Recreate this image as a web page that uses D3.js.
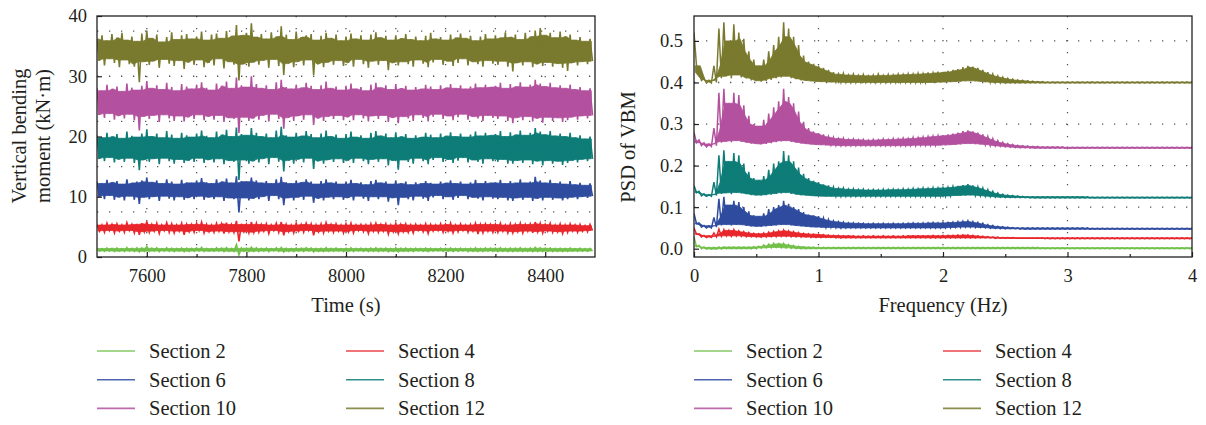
<!DOCTYPE html>
<html><head><meta charset="utf-8">
<script src="https://cdn.jsdelivr.net/npm/d3@7"></script>
<style>
body{margin:0;background:#fff}
text{font-family:"Liberation Serif","Times New Roman",serif;fill:#231f20}
</style>
</head><body>
<svg id="c" width="1206" height="425"></svg>
<script>
// ---------- categories / labels ----------
const seriesNames = ["Section 2","Section 4","Section 6","Section 8","Section 10","Section 12"];
const seriesColors = ["#72c04a","#e8262b","#2f4c9f","#0e7c77","#b3519f","#7a7a2f"];
const timeTicks = [7600,7800,8000,8200,8400];
const timeMinorTicks = [7700,7900,8100,8300];
const vbmTicks = [0,10,20,30,40];
const vbmGrid = [7.5,15,22.5,30,37.5];
const freqTicks = [0,1,2,3,4];
const freqMinorTicks = [0.5,1.5,2.5,3.5];
const psdTicks = [0,0.1,0.2,0.3,0.4,0.5];

// ---------- time series: 10 s bins starting 7500 s, max / min per bin (kN·m) ----------
const timeBins = d3.range(7500, 8500, 10);
const tsHi2 = [1.45,1.40,1.50,1.42,1.48,1.40,1.55,1.43,1.50,1.46, 1.75,1.44,1.50,1.40,1.52,1.45,1.41,1.49,1.44,1.42,
 1.50,1.58,1.43,1.40,1.52,1.46,1.55,1.42,2.05,1.48, 1.45,1.60,1.50,1.42,1.47,1.40,1.52,1.58,1.44,1.41,
 1.50,1.44,1.52,1.47,1.40,1.46,1.55,1.42,1.48,1.40, 1.46,1.52,1.41,1.44,1.40,1.48,1.53,1.43,1.47,1.40,
 1.55,1.43,1.47,1.40,1.44,1.41,1.48,1.45,1.40,1.46, 1.43,1.50,1.41,1.46,1.40,1.44,1.52,1.42,1.47,1.44,
 1.45,1.51,1.42,1.48,1.44,1.52,1.43,1.47,1.58,1.50, 1.44,1.50,1.42,1.46,1.41,1.47,1.40,1.44,1.39,1.43];
const tsLo2 = [0.98,0.94,1.00,0.92,0.97,0.93,1.00,0.92,0.85,0.96, 0.93,0.98,0.90,1.00,0.95,0.92,0.98,0.88,0.96,0.94,
 1.00,0.92,0.97,0.94,0.99,0.90,0.96,0.94,0.35,0.96, 0.92,0.95,0.93,0.99,0.90,1.01,0.94,0.84,0.96,0.92,
 0.98,0.94,1.00,0.86,0.95,0.92,0.97,0.94,0.99,0.92, 0.96,0.93,1.00,0.95,0.91,0.98,0.94,0.98,0.88,0.95,
 0.85,0.97,0.94,0.92,1.00,0.95,0.91,0.97,1.01,0.94, 0.98,0.93,0.96,1.01,0.93,0.97,0.94,0.91,0.98,0.95,
 0.94,0.97,0.92,0.91,0.96,0.93,0.97,0.91,0.95,0.92, 0.97,0.93,0.96,0.91,0.94,0.97,0.94,0.98,0.96,0.99];
const tsHi4 = [5.4,5.3,5.6,5.4,5.5,5.3,5.7,5.4,5.5,5.6, 5.9,5.4,5.6,5.3,5.7,5.5,5.3,5.6,5.4,5.4,
 5.6,5.8,5.4,5.3,5.6,5.5,5.7,5.4,6.0,5.5, 5.4,5.8,5.6,5.4,5.5,5.3,5.6,5.8,5.4,5.3,
 5.6,5.4,5.6,5.5,5.3,5.5,5.7,5.4,5.5,5.3, 5.5,5.6,5.3,5.4,5.3,5.5,5.6,5.4,5.5,5.3,
 5.6,5.4,5.5,5.3,5.4,5.3,5.5,5.4,5.3,5.5, 5.4,5.6,5.3,5.5,5.3,5.4,5.6,5.4,5.5,5.4,
 5.4,5.6,5.3,5.5,5.4,5.6,5.4,5.5,5.8,5.6, 5.4,5.6,5.3,5.5,5.3,5.5,5.3,5.4,5.2,5.4];
const tsLo4 = [4.3,4.1,4.4,4.0,4.3,4.1,4.4,4.0,3.7,4.2, 4.1,4.3,3.9,4.4,4.1,4.0,4.3,3.7,4.2,4.1,
 4.4,4.0,4.2,4.1,4.3,3.9,4.2,4.1,2.6,4.2, 4.0,4.1,4.1,4.3,3.9,4.4,4.1,3.6,4.2,4.0,
 4.3,4.1,4.4,3.6,4.2,4.0,4.3,4.1,4.3,4.0, 4.2,4.0,4.4,4.2,3.9,4.3,4.1,4.3,3.8,4.2,
 3.9,4.2,4.1,4.0,4.4,4.2,3.9,4.3,4.4,4.1, 4.3,4.0,4.2,4.4,4.1,4.3,3.8,4.0,4.3,4.1,
 4.1,4.3,4.0,4.0,4.2,4.0,4.3,4.0,4.2,4.0, 4.3,4.1,4.2,3.9,4.1,4.3,4.1,4.3,4.2,4.4];
const tsHi6 = [12.5,12.2,12.8,12.4,12.6,12.1,12.9,12.3,12.5,12.7, 13.2,12.4,12.7,12.2,12.9,12.5,12.1,12.8,12.4,12.3,
 12.7,13.1,12.4,12.2,12.9,12.5,13.0,12.3,13.4,12.6, 12.5,13.2,12.7,12.3,12.6,12.2,12.9,13.3,12.4,12.2,
 12.7,12.4,12.9,12.5,12.1,12.6,12.9,12.3,12.5,12.1, 12.5,12.8,12.2,12.4,12.0,12.6,12.8,12.3,12.5,12.1,
 12.7,12.2,12.5,12.0,12.4,12.2,12.6,12.3,12.1,12.5, 12.3,12.7,12.2,12.5,12.1,12.4,12.8,12.2,12.6,12.3,
 12.4,12.8,12.2,12.6,12.3,12.9,12.3,12.5,13.3,12.7, 12.3,12.8,12.2,12.5,12.1,12.6,12.0,12.3,11.9,12.2];
const tsLo6 = [10.0,9.6,10.2,9.5,9.9,9.4,10.1,9.5,8.8,9.9, 9.6,10.0,9.3,10.1,9.7,9.4,10.0,9.5,9.8,9.6,
 10.1,9.5,9.9,9.6,10.0,9.3,9.8,9.6,7.4,9.8, 9.4,9.7,9.6,10.0,9.3,10.2,9.6,8.6,9.8,9.4,
 9.9,9.5,10.1,9.0,9.7,9.4,9.9,9.6,10.0,9.5, 9.8,9.4,10.1,9.7,9.3,10.0,9.6,10.0,9.2,9.8,
 8.6,9.9,9.6,9.4,10.1,9.7,9.3,9.9,10.2,9.6, 10.0,9.5,9.8,10.2,9.6,9.9,9.7,9.4,10.0,9.7,
 9.6,9.9,9.4,9.3,9.8,9.5,9.9,9.3,9.7,9.4, 9.9,9.5,9.8,9.4,9.6,9.9,9.6,10.0,9.8,10.1];
const tsHi8 = [20.2,19.8,20.6,20.0,20.4,19.7,20.8,20.1,19.9,20.5, 21.2,20.0,20.5,19.8,20.9,20.3,19.7,20.6,20.2,19.9,
 20.5,21.0,20.1,19.8,20.8,20.3,21.1,20.0,21.5,20.4, 20.2,21.4,20.6,20.0,20.5,19.8,21.0,21.6,20.2,19.9,
 20.6,20.1,20.9,20.4,19.8,20.5,21.0,20.0,20.3,19.7, 20.4,20.8,19.9,20.2,19.7,20.6,20.9,20.1,20.5,19.8,
 20.7,20.0,20.4,19.7,20.2,19.9,20.6,20.3,19.8,20.5, 20.1,20.7,20.0,20.5,19.9,20.3,20.8,20.1,20.6,20.2,
 20.4,20.9,20.0,20.7,20.3,21.0,20.2,20.6,21.4,20.8, 20.3,20.9,20.1,20.5,20.0,20.6,19.8,20.2,19.6,20.0];
const tsLo8 = [16.3,15.9,16.5,15.7,16.2,15.8,16.4,15.6,14.4,16.1, 15.8,16.3,15.4,16.4,15.9,15.5,16.2,15.6,16.0,15.8,
 16.4,15.6,16.1,15.7,16.3,15.4,16.0,15.8,12.8,16.1, 15.5,15.9,15.7,16.3,15.4,16.5,15.8,14.2,16.0,15.5,
 16.2,15.7,16.4,14.6,15.9,15.5,16.1,15.8,16.3,15.6, 16.0,15.6,16.4,15.9,15.4,16.2,15.8,16.3,15.2,16.0,
 14.5,16.1,15.8,15.5,16.4,15.9,15.4,16.1,16.5,15.8, 16.2,15.6,16.0,16.5,15.7,16.1,15.8,15.5,16.3,15.9,
 15.8,16.2,15.5,15.5,16.0,15.6,16.1,15.4,15.9,15.2, 16.0,15.5,15.9,15.3,15.6,16.0,15.7,16.2,15.9,16.3];
const tsHi10 = [28.0,27.6,28.6,27.9,28.3,27.5,28.8,28.1,27.7,28.4, 29.2,28.0,28.5,27.8,28.9,28.2,27.6,28.7,28.3,27.9,
 28.6,29.0,28.1,27.7,28.8,28.4,29.1,28.0,29.8,28.5, 28.2,30.0,28.7,28.0,28.5,27.8,29.0,29.4,28.2,27.9,
 28.6,28.1,28.9,28.4,27.8,28.5,29.1,28.0,28.3,27.7, 28.4,28.8,27.9,28.2,27.6,28.6,28.9,28.1,28.5,27.8,
 28.7,28.0,28.4,27.7,28.2,27.9,28.6,28.3,27.8,28.5, 28.1,28.7,28.0,28.5,27.9,28.3,28.8,28.1,28.6,28.2,
 28.4,28.9,28.0,28.7,28.3,29.0,28.2,28.6,29.4,28.8, 28.3,28.9,28.1,28.5,28.0,28.6,27.8,28.2,27.6,28.0];
const tsLo10 = [23.6,23.1,23.8,22.8,23.4,23.0,23.7,22.7,21.0,23.3, 22.9,23.5,22.4,23.6,23.0,22.6,23.4,22.5,23.2,22.9,
 23.6,22.7,23.3,22.8,23.5,22.4,23.1,22.9,20.6,23.2, 22.6,23.0,22.8,23.5,22.5,23.7,22.9,21.3,23.1,22.6,
 23.4,22.8,23.6,21.9,23.0,22.6,23.3,22.9,23.5,22.7, 23.2,22.7,23.6,23.0,22.5,23.4,22.9,23.5,22.4,23.1,
 22.2,23.3,23.0,22.6,23.6,23.1,22.5,23.3,23.7,22.9, 23.4,22.7,23.2,23.7,22.8,23.3,23.0,22.6,23.5,23.1,
 22.9,23.4,22.6,22.2,23.1,22.7,23.3,22.5,23.0,22.3, 23.2,22.6,23.1,22.4,22.7,23.2,22.8,23.4,23.0,23.5];
const tsHi12 = [36.2,36.8,35.9,37.0,36.4,37.2,36.0,36.6,35.8,37.1, 37.6,36.3,36.9,35.7,36.5,37.3,36.1,36.8,37.0,36.2,
 36.6,37.4,36.0,36.9,37.1,36.3,37.5,36.7,38.5,36.8, 37.2,38.8,36.5,37.0,36.2,37.3,36.6,38.3,36.9,36.1,
 37.4,36.5,36.8,37.0,36.0,36.7,37.2,36.3,36.9,35.9, 36.6,37.1,36.2,36.8,36.0,36.9,37.3,36.4,36.7,36.0,
 36.8,36.3,37.0,36.1,36.6,35.9,36.7,37.2,36.2,36.5, 36.0,36.9,36.4,37.1,36.3,36.7,35.9,36.6,37.0,36.2,
 36.8,36.4,37.3,36.5,36.9,36.1,37.2,36.6,37.6,38.0, 36.8,37.2,36.4,37.4,36.6,36.9,36.0,36.5,35.8,36.2];
const tsLo12 = [32.6,31.8,32.9,32.2,31.5,32.7,32.0,31.6,29.0,32.4, 31.9,32.5,31.4,32.8,32.1,31.7,32.6,31.2,32.3,31.9,
 32.7,31.5,32.2,31.8,32.9,31.3,32.4,31.9,29.3,32.0, 31.6,32.3,31.9,32.6,31.4,32.8,31.7,30.2,32.1,31.5,
 32.4,31.8,32.7,30.2,32.0,31.5,32.3,31.9,32.6,31.7, 32.2,31.6,32.8,32.0,31.4,32.5,31.9,32.6,31.0,32.2,
 31.8,32.4,32.0,31.6,32.7,32.1,31.5,32.3,32.8,31.9, 32.5,31.7,32.2,32.9,31.8,32.4,32.0,31.6,32.6,32.1,
 31.9,32.5,31.6,30.8,32.2,31.8,32.4,31.5,32.0,31.7, 32.3,31.6,32.1,31.4,30.9,32.2,31.8,32.4,32.0,32.5];

// ---------- PSD: 0.04 Hz bins from 0 to 4 Hz, max / min per bin ----------
const freqBins = d3.range(0, 101).map(i => i * 0.04);
const psdHi2 = [0.028,0.008,0.004,0.003,0.003,0.004,0.004,0.004,0.004,0.004,
 0.004,0.004,0.005,0.006,0.009,0.011,0.013,0.012,0.013,0.010,
 0.008,0.006,0.005,0.004,0.004,0.003,0.003,0.003,0.003,0.003,
 0.003,0.003,0.003,0.003,0.003,0.003,0.003,0.003,0.003,0.003,
 0.003,0.003,0.003,0.003,0.003,0.003,0.003,0.003,0.003,0.003,
 0.003,0.003,0.003,0.003,0.003,0.003,0.003,0.003,0.003,0.003,
 0.003,0.003,0.003,0.003,0.003,0.003,0.003,0.003,0.003,0.003,
 0.002,0.002,0.002,0.002,0.002,0.002,0.002,0.002,0.002,0.002,
 0.002,0.002,0.002,0.002,0.002,0.002,0.002,0.002,0.002,0.002,
 0.002,0.002,0.002,0.002,0.002,0.002,0.002,0.002,0.002,0.002,0.002];
const psdLo2 = [0.005,0.000,-0.001,-0.001,-0.001,-0.001,0.000,0.000,0.000,0.000,
 0.000,0.000,0.000,0.001,0.002,0.002,0.003,0.002,0.002,0.001,
 0.000,0.000,0.000,0.000,0.000,0.000,0.000,0.000,0.000,0.000,
 0.000,0.000,0.000,0.000,0.000,0.000,0.000,0.000,0.000,0.000,
 0.000,0.000,0.000,0.000,0.000,0.000,0.000,0.000,0.000,0.000,
 0.000,0.000,0.000,0.000,0.000,0.000,0.000,0.000,0.000,0.000,
 0.000,0.000,0.000,0.000,0.000,0.000,0.000,0.000,0.000,0.000,
 0.000,0.000,0.000,0.000,0.000,0.000,0.000,0.000,0.000,0.000,
 0.000,0.000,0.000,0.000,0.000,0.000,0.000,0.000,0.000,0.000,
 0.000,0.000,0.000,0.000,0.000,0.000,0.000,0.000,0.000,0.000,0.000];
const psdHi4 = [0.050,0.036,0.032,0.031,0.038,0.047,0.046,0.044,0.046,0.043,
 0.041,0.039,0.037,0.036,0.038,0.040,0.042,0.043,0.045,0.043,
 0.041,0.039,0.037,0.036,0.035,0.035,0.034,0.033,0.032,0.032,
 0.031,0.031,0.031,0.030,0.031,0.030,0.031,0.030,0.031,0.030,
 0.031,0.030,0.031,0.031,0.031,0.031,0.031,0.031,0.032,0.031,
 0.032,0.032,0.032,0.033,0.033,0.033,0.032,0.031,0.030,0.029,
 0.028,0.028,0.027,0.027,0.027,0.026,0.026,0.026,0.026,0.026,
 0.026,0.026,0.026,0.026,0.026,0.026,0.026,0.026,0.026,0.026,
 0.026,0.026,0.026,0.026,0.026,0.026,0.026,0.026,0.026,0.026,
 0.026,0.026,0.026,0.026,0.026,0.026,0.026,0.026,0.026,0.026,0.026];
const psdLo4 = [0.035,0.028,0.027,0.027,0.028,0.030,0.031,0.030,0.031,0.030,
 0.029,0.029,0.028,0.028,0.028,0.029,0.029,0.030,0.030,0.029,
 0.029,0.028,0.028,0.027,0.027,0.027,0.027,0.027,0.026,0.026,
 0.026,0.026,0.026,0.026,0.026,0.026,0.026,0.026,0.026,0.026,
 0.026,0.026,0.026,0.026,0.026,0.026,0.026,0.026,0.026,0.026,
 0.026,0.026,0.026,0.026,0.026,0.026,0.026,0.026,0.026,0.026,
 0.025,0.025,0.025,0.025,0.025,0.025,0.025,0.025,0.025,0.025,
 0.024,0.024,0.024,0.024,0.024,0.024,0.024,0.024,0.024,0.024,
 0.024,0.024,0.024,0.024,0.024,0.024,0.024,0.024,0.024,0.024,
 0.024,0.024,0.024,0.024,0.024,0.024,0.024,0.024,0.024,0.024,0.024];
const psdHi6 = [0.085,0.062,0.056,0.055,0.075,0.120,0.125,0.105,0.115,0.112,
 0.100,0.090,0.080,0.078,0.085,0.095,0.100,0.105,0.115,0.108,
 0.100,0.095,0.088,0.082,0.080,0.078,0.074,0.070,0.067,0.065,
 0.064,0.062,0.062,0.061,0.061,0.060,0.061,0.060,0.061,0.060,
 0.061,0.060,0.061,0.061,0.062,0.061,0.062,0.062,0.063,0.062,
 0.063,0.063,0.064,0.065,0.066,0.067,0.065,0.063,0.061,0.058,
 0.056,0.054,0.053,0.052,0.051,0.050,0.050,0.050,0.050,0.050,
 0.050,0.050,0.050,0.050,0.050,0.050,0.050,0.050,0.050,0.050,
 0.049,0.049,0.049,0.049,0.049,0.049,0.049,0.049,0.049,0.049,
 0.049,0.049,0.049,0.049,0.049,0.049,0.049,0.049,0.049,0.049,0.049];
const psdLo6 = [0.060,0.052,0.050,0.050,0.052,0.056,0.058,0.056,0.058,0.057,
 0.055,0.054,0.053,0.053,0.054,0.055,0.056,0.057,0.058,0.056,
 0.055,0.054,0.053,0.052,0.052,0.051,0.051,0.051,0.050,0.050,
 0.050,0.050,0.050,0.050,0.050,0.050,0.050,0.050,0.050,0.050,
 0.050,0.050,0.050,0.050,0.050,0.050,0.050,0.050,0.050,0.050,
 0.050,0.050,0.051,0.051,0.052,0.052,0.051,0.051,0.050,0.049,
 0.049,0.048,0.048,0.048,0.048,0.047,0.047,0.047,0.047,0.047,
 0.047,0.047,0.047,0.047,0.047,0.047,0.047,0.047,0.047,0.047,
 0.047,0.047,0.047,0.047,0.047,0.047,0.047,0.047,0.047,0.047,
 0.047,0.047,0.047,0.047,0.047,0.047,0.047,0.047,0.047,0.047,0.047];
const psdHi8 = [0.152,0.138,0.132,0.130,0.160,0.225,0.237,0.210,0.230,0.225,
 0.205,0.185,0.170,0.165,0.175,0.190,0.205,0.210,0.235,0.225,
 0.210,0.195,0.180,0.170,0.163,0.160,0.155,0.152,0.148,0.145,
 0.146,0.143,0.144,0.142,0.143,0.141,0.142,0.141,0.143,0.142,
 0.143,0.142,0.144,0.143,0.145,0.144,0.146,0.145,0.147,0.146,
 0.147,0.148,0.150,0.151,0.153,0.155,0.152,0.149,0.146,0.142,
 0.138,0.134,0.131,0.129,0.128,0.127,0.126,0.125,0.125,0.125,
 0.125,0.125,0.125,0.125,0.125,0.125,0.125,0.125,0.125,0.125,
 0.124,0.124,0.124,0.124,0.124,0.124,0.124,0.124,0.124,0.124,
 0.124,0.124,0.124,0.124,0.124,0.124,0.124,0.124,0.124,0.124,0.124];
const psdLo8 = [0.135,0.127,0.126,0.126,0.128,0.132,0.134,0.131,0.135,0.133,
 0.131,0.129,0.128,0.128,0.129,0.130,0.132,0.133,0.135,0.132,
 0.130,0.129,0.128,0.127,0.127,0.126,0.126,0.126,0.126,0.126,
 0.126,0.126,0.126,0.126,0.126,0.126,0.126,0.126,0.126,0.126,
 0.126,0.126,0.126,0.126,0.126,0.126,0.126,0.126,0.126,0.126,
 0.126,0.127,0.127,0.128,0.128,0.129,0.128,0.127,0.126,0.125,
 0.124,0.124,0.123,0.123,0.123,0.123,0.123,0.122,0.122,0.122,
 0.122,0.122,0.122,0.122,0.122,0.122,0.122,0.122,0.122,0.122,
 0.122,0.122,0.122,0.122,0.122,0.122,0.122,0.122,0.122,0.122,
 0.122,0.122,0.122,0.122,0.122,0.122,0.122,0.122,0.122,0.122,0.122];
const psdHi10 = [0.280,0.262,0.255,0.252,0.290,0.375,0.385,0.350,0.375,0.370,
 0.345,0.320,0.300,0.295,0.310,0.325,0.340,0.355,0.385,0.365,
 0.350,0.330,0.305,0.290,0.282,0.278,0.275,0.270,0.268,0.265,
 0.266,0.263,0.264,0.262,0.263,0.261,0.263,0.262,0.264,0.263,
 0.265,0.264,0.266,0.265,0.268,0.267,0.269,0.270,0.271,0.272,
 0.273,0.275,0.277,0.279,0.283,0.285,0.282,0.279,0.275,0.270,
 0.265,0.260,0.256,0.253,0.251,0.249,0.248,0.247,0.246,0.246,
 0.245,0.245,0.245,0.245,0.245,0.244,0.244,0.244,0.244,0.244,
 0.244,0.244,0.244,0.244,0.244,0.244,0.244,0.244,0.244,0.244,
 0.244,0.244,0.244,0.244,0.244,0.244,0.244,0.244,0.244,0.244,0.244];
const psdLo10 = [0.255,0.248,0.245,0.246,0.248,0.255,0.258,0.256,0.260,0.257,
 0.255,0.253,0.252,0.251,0.252,0.254,0.256,0.258,0.260,0.257,
 0.255,0.253,0.252,0.251,0.250,0.250,0.249,0.249,0.248,0.248,
 0.248,0.248,0.248,0.248,0.248,0.248,0.248,0.248,0.248,0.248,
 0.248,0.248,0.248,0.248,0.248,0.249,0.249,0.249,0.249,0.249,
 0.249,0.250,0.250,0.251,0.252,0.253,0.252,0.251,0.250,0.248,
 0.247,0.246,0.245,0.244,0.243,0.243,0.243,0.242,0.242,0.242,
 0.242,0.242,0.242,0.242,0.242,0.242,0.242,0.242,0.242,0.242,
 0.242,0.242,0.242,0.242,0.242,0.242,0.242,0.242,0.242,0.242,
 0.242,0.242,0.242,0.242,0.242,0.242,0.242,0.242,0.242,0.242,0.242];
const psdHi12 = [0.520,0.425,0.410,0.405,0.440,0.530,0.545,0.500,0.540,0.520,
 0.505,0.475,0.455,0.440,0.455,0.475,0.490,0.510,0.545,0.530,
 0.510,0.490,0.465,0.450,0.445,0.440,0.435,0.430,0.425,0.420,
 0.422,0.418,0.420,0.417,0.419,0.416,0.418,0.420,0.417,0.419,
 0.418,0.420,0.419,0.421,0.420,0.422,0.421,0.424,0.423,0.426,
 0.425,0.428,0.430,0.432,0.437,0.440,0.438,0.435,0.430,0.425,
 0.420,0.416,0.413,0.410,0.408,0.406,0.405,0.404,0.403,0.402,
 0.402,0.401,0.401,0.401,0.401,0.401,0.401,0.401,0.401,0.401,
 0.401,0.401,0.401,0.401,0.401,0.401,0.401,0.401,0.401,0.401,
 0.401,0.401,0.401,0.401,0.401,0.401,0.401,0.401,0.401,0.401,0.401];
const psdLo12 = [0.440,0.405,0.399,0.399,0.400,0.410,0.415,0.410,0.418,0.412,
 0.410,0.405,0.403,0.402,0.404,0.406,0.410,0.412,0.415,0.410,
 0.408,0.405,0.404,0.403,0.402,0.402,0.401,0.401,0.401,0.400,
 0.400,0.400,0.400,0.400,0.400,0.400,0.400,0.400,0.400,0.400,
 0.400,0.400,0.400,0.400,0.400,0.400,0.400,0.400,0.400,0.400,
 0.401,0.401,0.402,0.402,0.403,0.404,0.403,0.402,0.401,0.400,
 0.400,0.399,0.399,0.399,0.399,0.399,0.399,0.399,0.399,0.399,
 0.399,0.399,0.399,0.399,0.399,0.399,0.399,0.399,0.399,0.399,
 0.399,0.399,0.399,0.399,0.399,0.399,0.399,0.399,0.399,0.399,
 0.399,0.399,0.399,0.399,0.399,0.399,0.399,0.399,0.399,0.399,0.399];

const tsHi = [tsHi2, tsHi4, tsHi6, tsHi8, tsHi10, tsHi12];
const tsLo = [tsLo2, tsLo4, tsLo6, tsLo8, tsLo10, tsLo12];
const psdHi = [psdHi2, psdHi4, psdHi6, psdHi8, psdHi10, psdHi12];
const psdLo = [psdLo2, psdLo4, psdLo6, psdLo8, psdLo10, psdLo12];

// ---------- drawing ----------
const svg = d3.select("#c");
const INK = "#231f20";
const TICK_FONT = "18.5px", TITLE_FONT = "20.5px";

function panel(opt) {
  const g = svg.append("g");
  const x = d3.scaleLinear().domain(opt.xDomain).range([opt.x0, opt.x1]);
  const y = d3.scaleLinear().domain(opt.yDomain).range([opt.y1, opt.y0]);
  const clipId = "clip" + opt.id;
  svg.append("clipPath").attr("id", clipId).append("rect")
    .attr("x", opt.x0).attr("y", opt.y0).attr("width", opt.x1 - opt.x0).attr("height", opt.y1 - opt.y0);

  // dotted grid
  const grid = g.append("g").attr("stroke", "#555").attr("stroke-width", 1.3)
    .attr("stroke-dasharray", "1.3,10.7");
  opt.xGrid.forEach(v => grid.append("line").attr("x1", x(v)).attr("x2", x(v))
    .attr("y1", opt.y0).attr("y2", opt.y1));
  opt.yGrid.forEach(v => grid.append("line").attr("y1", y(v)).attr("y2", y(v))
    .attr("x1", opt.x0).attr("x2", opt.x1));

  // series: dense core (neighbourhood of bins) + zigzag through each bin's extremes
  const sg = g.append("g").attr("clip-path", `url(#${clipId})`);
  opt.hi.forEach((hi, k) => {
    const lo = opt.lo[k];
    const n = Math.min(hi.length, lo.length, opt.xs.length);
    const idx = d3.range(n);
    const nb = i => [Math.max(0, i - 1), i, Math.min(n - 1, i + 1)];
    const area = d3.area()
      .x(i => x(opt.xs[i] + opt.half / 2))
      .y0(i => y(d3.max(nb(i), j => lo[j])))
      .y1(i => y(d3.min(nb(i), j => hi[j])));
    sg.append("path").attr("d", area(idx)).attr("fill", seriesColors[k])
      .attr("stroke", seriesColors[k]).attr("stroke-width", 0.8);
    const pts = [];
    idx.forEach(i => { pts.push([opt.xs[i], hi[i]]); pts.push([opt.xs[i] + opt.half, lo[i]]); });
    sg.append("path").attr("d", d3.line().x(d => x(d[0])).y(d => y(d[1]))(pts))
      .attr("fill", "none").attr("stroke", seriesColors[k]).attr("stroke-width", opt.sw);
  });

  // axes (ticks inward)
  g.append("g").attr("transform", `translate(0,${opt.y1})`)
    .call(d3.axisBottom(x).tickValues(opt.xTicks).tickSize(-5).tickPadding(12).tickFormat(opt.xFmt));
  g.append("g").attr("transform", `translate(0,${opt.y1})`)
    .call(d3.axisBottom(x).tickValues(opt.xMinor).tickSize(-3).tickFormat(""));
  g.append("g").attr("transform", `translate(${opt.x0},0)`)
    .call(d3.axisLeft(y).tickValues(opt.yTicks).tickSize(-5).tickPadding(opt.yPad).tickFormat(opt.yFmt));
  g.selectAll(".domain").remove();
  g.selectAll(".tick line").attr("stroke", INK).attr("stroke-width", 1.2);
  g.selectAll(".tick text").attr("font-family", '"Liberation Serif",serif')
    .attr("font-size", TICK_FONT).attr("fill", INK);

  g.append("rect").attr("x", opt.x0).attr("y", opt.y0)
    .attr("width", opt.x1 - opt.x0).attr("height", opt.y1 - opt.y0)
    .attr("fill", "none").attr("stroke", INK).attr("stroke-width", 1.3);

  g.append("text").attr("x", (opt.x0 + opt.x1) / 2).attr("y", 312)
    .attr("text-anchor", "middle").attr("font-size", TITLE_FONT).text(opt.xTitle);
  opt.yTitle.forEach((t, i) => {
    g.append("text").attr("transform", `translate(${opt.yTitleX[i]},${opt.yTitleY}) rotate(-90)`)
      .attr("text-anchor", "middle").attr("font-size", TITLE_FONT).text(t);
  });

  const lg = g.append("g");
  seriesNames.forEach((name, k) => {
    const col = k % 2, row = Math.floor(k / 2);
    const lx = opt.legX[col], ly = 351 + row * 28.7;
    lg.append("line").attr("x1", lx).attr("x2", lx + 38).attr("y1", ly).attr("y2", ly)
      .attr("stroke", seriesColors[k]).attr("stroke-width", 1.6).attr("opacity", 0.85);
    lg.append("text").attr("x", lx + 52).attr("y", ly + 7)
      .attr("font-size", TITLE_FONT).text(name);
  });
}

panel({
  id: "L", x0: 97, x1: 595, y0: 16, y1: 257,
  xDomain: [7500, 8500], yDomain: [0, 40],
  xs: timeBins, half: 5, hi: tsHi, lo: tsLo, sw: 1.6,
  xTicks: timeTicks, xMinor: timeMinorTicks, xFmt: d3.format("d"),
  yTicks: vbmTicks, yFmt: d3.format("d"), yPad: 10,
  xGrid: timeTicks.concat(timeMinorTicks), yGrid: vbmGrid,
  xTitle: "Time (s)", yTitle: ["Vertical bending", "moment (kN·m)"],
  yTitleX: [26, 50], yTitleY: 136,
  legX: [97, 346]
});

panel({
  id: "R", x0: 694, x1: 1192, y0: 16, y1: 257,
  xDomain: [0, 4], yDomain: [-0.02, 0.56],
  xs: freqBins, half: 0.02, hi: psdHi, lo: psdLo, sw: 1.5,
  xTicks: freqTicks, xMinor: freqMinorTicks, xFmt: d3.format("d"),
  yTicks: psdTicks, yFmt: d3.format(".1f"), yPad: 11,
  xGrid: [1, 2, 3], yGrid: [0.1, 0.2, 0.3, 0.4, 0.5],
  xTitle: "Frequency (Hz)", yTitle: ["PSD of VBM"],
  yTitleX: [635], yTitleY: 147,
  legX: [694, 943]
});
</script>
</body></html>
